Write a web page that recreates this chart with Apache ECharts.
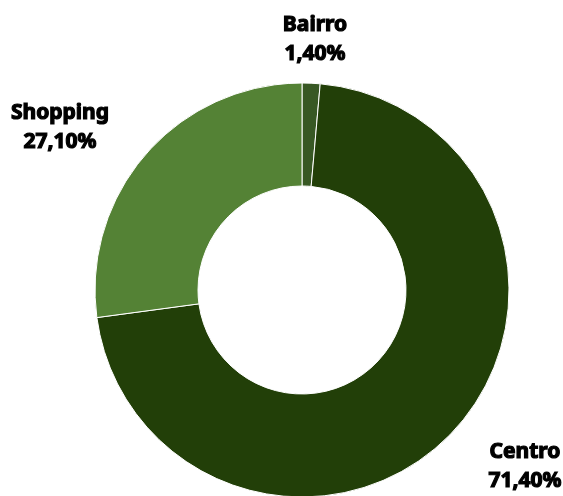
<!DOCTYPE html>
<html lang="pt">
<head>
    <meta charset="UTF-8">
    <script src="https://cdn.jsdelivr.net/npm/echarts@6/dist/echarts.min.js"></script>
    <title>Vendas por local</title>
    <style>
        html, body { margin: 0; padding: 0; background: #fff; }
        #main { width: 563px; height: 496px; }
    </style>
</head>
<body>
    <div id="main"></div>
    <script type="text/javascript">
        // dados
        var locais = ['Bairro', 'Centro', 'Shopping'];
        var percentuais = [1.4, 71.4, 27.1];
        var cores = ['#385824', '#223f08', '#548235'];

        // onde fica cada rótulo (centro do texto)
        var posRotulos = [[315, 40], [525, 467], [60, 128]];

        var myChart = echarts.init(document.getElementById('main'));

        var dados = locais.map(function (nome, i) {
            return { name: nome, value: percentuais[i], itemStyle: { color: cores[i] } };
        });

        var option = {
            animation: false,
            series: [{
                type: 'pie',
                center: [302, 290],
                radius: [104, 207],
                startAngle: 90,
                clockwise: true,
                data: dados,
                itemStyle: { borderColor: '#ffffff', borderWidth: 1 },
                label: {
                    show: true,
                    position: 'inside',
                    overflow: 'none',
                    fontFamily: 'Noto Sans',
                    fontWeight: 'bold',
                    fontSize: 21,
                    lineHeight: 29,
                    color: '#000',
                    // deixa o texto mais pesado, como no original
                    textBorderColor: '#000',
                    textBorderWidth: 1.2,
                    align: 'center',
                    formatter: function (p) {
                        return p.name + '\n' + p.value.toFixed(2).replace('.', ',') + '%';
                    }
                },
                labelLine: { show: false },
                labelLayout: function (params) {
                    var pos = posRotulos[params.dataIndex];
                    return {
                        x: pos[0],
                        y: pos[1],
                        align: 'center',
                        verticalAlign: 'middle'
                    };
                }
            }]
        };

        myChart.setOption(option);
    </script>
</body>
</html>
